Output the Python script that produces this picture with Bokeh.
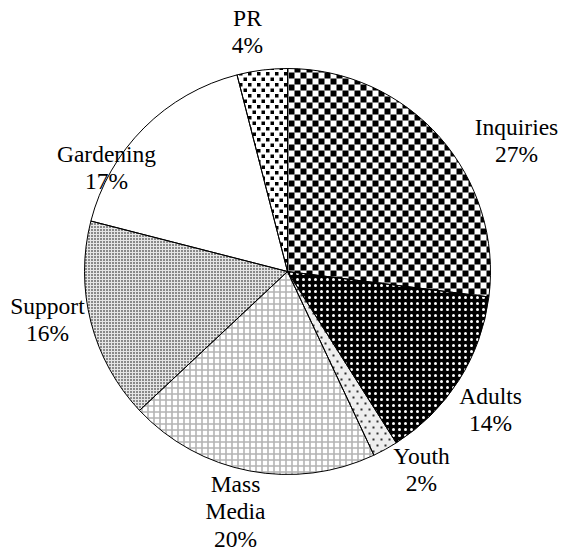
import numpy as np
from bokeh.plotting import figure
from bokeh.models import Range1d, ColumnDataSource
from bokeh.core.properties import value
from bokeh.embed import file_html
from bokeh.resources import INLINE

# ---- data ----
categories = ["Inquiries", "Adults", "Youth", "Mass Media", "Support", "Gardening", "PR"]
shares = [27, 14, 2, 20, 16, 17, 4]
label_names = ["Inquiries", "Adults", "Youth", "Mass\nMedia", "Support", "Gardening", "PR"]

# ---- layout (page pixel coordinates, y down) ----
W, H = 562, 556
CX, CY = 287, 271
R = 203
label_pos = {
    "Inquiries": (516, 140),
    "Adults": (490, 409),
    "Youth": (421, 469),
    "Mass Media": (235, 511),
    "Support": (47, 319),
    "Gardening": (106, 167),
    "PR": (247, 31),
}

# built-in hatch styles
styles = {
    "Inquiries": dict(fill="white"),
    "Adults": dict(fill="black", hatch="dot", hcolor="white", scale=6, weight=0.6),
    "Youth": dict(fill="#eeeeee"),
    "Mass Media": dict(fill="white", hatch="cross", hcolor="#b4b4b4", scale=6, weight=1.6),
    "Support": dict(fill="#e6e6e6", hatch="dot", hcolor="black", scale=3, weight=2.0),
    "Gardening": dict(fill="white"),
    "PR": dict(fill="white"),
}
# square-lattice textures (cell, row step, row shift, square size, colour)
lattices = {
    "Inquiries": dict(dx=12, dy=6, shift=6, size=6, color="black"),
    "PR": dict(dx=9, dy=5.5, shift=4.5, size=3.5, color="black"),
    "Youth": dict(dx=8, dy=6, shift=4, size=2, color="#333333"),
}

p = figure(width=W, height=H, output_backend="svg", toolbar_location=None,
           x_range=Range1d(0, W), y_range=Range1d(-H, 0),
           min_border=0, outline_line_color=None)
p.axis.visible = False
p.grid.visible = False

vals = np.array(shares, dtype=float)
frac = vals / vals.sum()
cum = np.concatenate([[0], np.cumsum(frac)])
starts = np.pi / 2 - cum[:-1] * 2 * np.pi
ends = np.pi / 2 - cum[1:] * 2 * np.pi

cx, cy = CX, -CY  # data coordinates


def wedge_polygon(a0, a1, n=240):
    t = np.linspace(a0, a1, n)
    return [(cx, cy)] + [(cx + R * np.cos(a), cy + R * np.sin(a)) for a in t]


def inside_wedge(x, y, a0, a1):
    dx, dy = x - cx, y - cy
    if dx * dx + dy * dy > R * R:
        return False
    ang = np.arctan2(dy, dx)
    rel = (a0 - ang) % (2 * np.pi)
    return rel <= (a0 - a1) + 1e-9


def clip(subject, clipper):
    area = 0.0
    for i in range(len(clipper)):
        x1, y1 = clipper[i]
        x2, y2 = clipper[(i + 1) % len(clipper)]
        area += x1 * y2 - x2 * y1
    sign = 1 if area > 0 else -1
    out = subject
    n = len(clipper)
    for i in range(n):
        if not out:
            break
        ax, ay = clipper[i]
        bx, by = clipper[(i + 1) % n]

        def ins(pt):
            return sign * ((bx - ax) * (pt[1] - ay) - (by - ay) * (pt[0] - ax)) >= 0

        def inter(s, e):
            x1, y1 = s
            x2, y2 = e
            den = (x1 - x2) * (ay - by) - (y1 - y2) * (ax - bx)
            if abs(den) < 1e-12:
                return e
            t = ((x1 - ax) * (ay - by) - (y1 - ay) * (ax - bx)) / den
            return (x1 + t * (x2 - x1), y1 + t * (y2 - y1))

        inp = out
        out = []
        s = inp[-1]
        for e in inp:
            if ins(e):
                if not ins(s):
                    out.append(inter(s, e))
                out.append(e)
            elif ins(s):
                out.append(inter(s, e))
            s = e
    return out


def lattice_patches(a0, a1, dx, dy, shift, size, **_):
    poly = wedge_polygon(a0, a1)
    xs_all, ys_all = [], []
    j0, j1 = int((CY - R) // dy) - 1, int((CY + R) // dy) + 2
    for j in range(j0, j1):
        py = j * dy
        off = shift if j % 2 else 0
        i0, i1 = int((CX - R - off) // dx) - 1, int((CX + R - off) // dx) + 2
        for i in range(i0, i1):
            px = i * dx + off
            sq = [(px, -py), (px + size, -py), (px + size, -py - size), (px, -py - size)]
            flags = [inside_wedge(x, y, a0, a1) for x, y in sq]
            if all(flags):
                pts = sq
            else:
                mx, my = px + size / 2, -py - size / 2
                if np.hypot(mx - cx, my - cy) > R + size:
                    continue
                pts = clip(sq, poly)
                if len(pts) < 3:
                    continue
            xs_all.append([q[0] for q in pts])
            ys_all.append([q[1] for q in pts])
    return xs_all, ys_all


# 1) base fills with built-in hatches
for i, cat in enumerate(categories):
    st = styles[cat]
    src = ColumnDataSource(dict(x=[cx], y=[cy], s=[starts[i]], e=[ends[i]]))
    kw = dict(fill_color=st["fill"], line_color=None)
    if "hatch" in st:
        kw.update(hatch_pattern=st["hatch"], hatch_color=st["hcolor"],
                  hatch_scale=st["scale"], hatch_weight=st["weight"])
    p.wedge(x="x", y="y", radius=R, start_angle="s", end_angle="e",
            direction="clock", source=src, **kw)

# 2) lattice textures clipped to their slices
for i, cat in enumerate(categories):
    if cat in lattices:
        lt = lattices[cat]
        xs, ys = lattice_patches(starts[i], ends[i], **lt)
        p.patches(xs=xs, ys=ys, fill_color=lt["color"], line_color=None)

# 3) slice outlines on top
src_all = ColumnDataSource(dict(x=[cx] * len(categories), y=[cy] * len(categories),
                                s=list(starts), e=list(ends)))
p.wedge(x="x", y="y", radius=R, start_angle="s", end_angle="e", direction="clock",
        source=src_all, fill_color=None, line_color="black", line_width=1)

lx = [label_pos[c][0] for c in categories]
ly = [-label_pos[c][1] for c in categories]
texts = [f"{n}\n{s}%" for n, s in zip(label_names, shares)]
p.text(x=lx, y=ly, text=texts, text_font=value("Liberation Serif"),
       text_font_size="23.5px", text_color="black", text_align="center",
       text_baseline="middle", text_line_height=1.06)

open("out.html", "w").write(file_html(p, INLINE))
